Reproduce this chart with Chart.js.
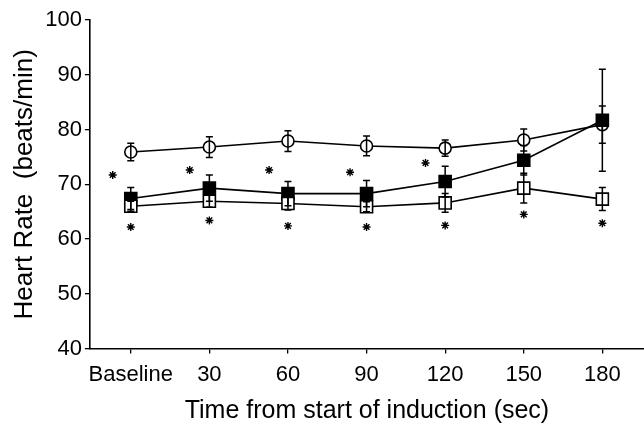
<!DOCTYPE html>
<html>
<head>
<meta charset="utf-8">
<script src="https://cdn.jsdelivr.net/npm/chart.js@4/dist/chart.umd.min.js"></script>
<style>
  html, body { margin: 0; padding: 0; background: #fff; }
  #wrap { width: 644px; height: 426px; }
</style>
</head>
<body>
<div id="wrap"><canvas id="chart"></canvas></div>
<script>
// time points
const timeLabels = ['Baseline', '30', '60', '90', '120', '150', '180'];

// open circles
const circleMean = [75.9, 76.8, 77.9, 77.0, 76.6, 78.1, 80.9];
const circleErr = [1.6, 1.9, 1.9, 1.8, 1.5, 2.0, 3.4];

// filled squares
const filledMean = [67.4, 69.3, 68.3, 68.3, 70.5, 74.4, 81.7];
const filledErr = [2.0, 2.4, 2.2, 2.4, 2.8, 2.7, 9.3];

// open squares
const openMean = [66.0, 66.9, 66.5, 65.9, 66.6, 69.3, 67.3];
const openErr = [0.9, 1.1, 1.2, 0.9, 1.7, 2.7, 2.1];

// asterisks (x as time index)
const starUpperX = [-0.23, 0.75, 1.76, 2.79, 3.75];
const starUpperY = [71.7, 72.6, 72.6, 72.2, 73.9];
const starLowerX = [0, 1, 2, 3, 4, 5, 6];
const starLowerY = [62.2, 63.4, 62.4, 62.2, 62.5, 64.5, 62.9];

const yTicks = [40, 50, 60, 70, 80, 90, 100];

const FONT = "'Liberation Sans', Arial, Helvetica, sans-serif";

const toPoints = (xs, ys) => ys.map((y, i) => ({ x: xs[i], y: y }));
const idx = timeLabels.map((_, i) => i);

function lineSet(label, mean, err, style, radius, fill) {
    return {
        label: label,
        data: toPoints(idx, mean),
        errors: err,
        showLine: true,
        borderColor: '#000',
        borderWidth: 1.6,
        pointStyle: style,
        pointRadius: radius,
        pointHoverRadius: radius,
        pointBackgroundColor: fill,
        pointBorderColor: '#000',
        pointBorderWidth: 1.6,
        tension: 0
    };
}

function starSet(xs, ys) {
    return {
        data: toPoints(xs, ys),
        showLine: false,
        pointStyle: 'star',
        pointRadius: 4,
        pointBorderColor: '#000',
        pointBorderWidth: 1.4,
        pointBackgroundColor: '#000'
    };
}

// error bars drawn through the scales
const errorBars = {
    id: 'errorBars',
    afterDatasetsDraw(chart) {
        const ctx = chart.ctx;
        const xs = chart.scales.x;
        const ys = chart.scales.y;
        ctx.save();
        ctx.strokeStyle = '#000';
        ctx.lineWidth = 1.5;
        chart.data.datasets.forEach(ds => {
            if (!ds.errors) return;
            ds.data.forEach((p, i) => {
                const x = xs.getPixelForValue(p.x);
                const top = ys.getPixelForValue(p.y + ds.errors[i]);
                const bot = ys.getPixelForValue(p.y - ds.errors[i]);
                ctx.beginPath();
                ctx.moveTo(x, top);
                ctx.lineTo(x, bot);
                ctx.moveTo(x - 3.5, top);
                ctx.lineTo(x + 3.5, top);
                ctx.moveTo(x - 3.5, bot);
                ctx.lineTo(x + 3.5, bot);
                ctx.stroke();
            });
        });
        ctx.restore();
    }
};

new Chart(document.getElementById('chart'), {
    type: 'scatter',
    data: {
        datasets: [
            lineSet('open squares', openMean, openErr, 'rect', 8.5, '#fff'),
            lineSet('filled squares', filledMean, filledErr, 'rect', 8.5, '#000'),
            lineSet('open circles', circleMean, circleErr, 'circle', 6, '#fff'),
            starSet(starUpperX, starUpperY),
            starSet(starLowerX, starLowerY)
        ]
    },
    options: {
        responsive: true,
        maintainAspectRatio: false,
        animation: false,
        layout: { autoPadding: false, padding: { top: 20, right: 0, bottom: 0, left: 9 } },
        plugins: {
            legend: { display: false },
            tooltip: { enabled: false }
        },
        scales: {
            x: {
                type: 'linear',
                min: -0.52,
                max: 6.53,
                afterBuildTicks: axis => {
                    axis.ticks = idx.map(i => ({ value: i }));
                },
                ticks: {
                    autoSkip: false,
                    maxRotation: 0,
                    color: '#000',
                    padding: 8,
                    font: { family: FONT, size: 22 },
                    callback: v => timeLabels[v]
                },
                grid: {
                    drawOnChartArea: false,
                    drawTicks: true,
                    tickLength: 5,
                    color: '#000',
                    lineWidth: 1.3
                },
                border: { display: true, color: '#000', width: 1.6 },
                title: {
                    display: true,
                    text: 'Time from start of induction (sec)',
                    color: '#000',
                    font: { family: FONT, size: 25 },
                    padding: { top: 0, bottom: 0 }
                }
            },
            y: {
                min: 40,
                max: 100,
                afterBuildTicks: axis => {
                    axis.ticks = yTicks.map(v => ({ value: v }));
                },
                ticks: {
                    color: '#000',
                    padding: 3,
                    font: { family: FONT, size: 22 }
                },
                grid: {
                    drawOnChartArea: false,
                    drawTicks: true,
                    tickLength: 5,
                    color: '#000',
                    lineWidth: 1.3
                },
                border: { display: true, color: '#000', width: 1.6 },
                title: {
                    display: true,
                    text: 'Heart Rate  (beats/min)',
                    color: '#000',
                    font: { family: FONT, size: 26 },
                    padding: { top: 0, bottom: 2 }
                }
            }
        }
    },
    plugins: [errorBars]
});
</script>
</body>
</html>
